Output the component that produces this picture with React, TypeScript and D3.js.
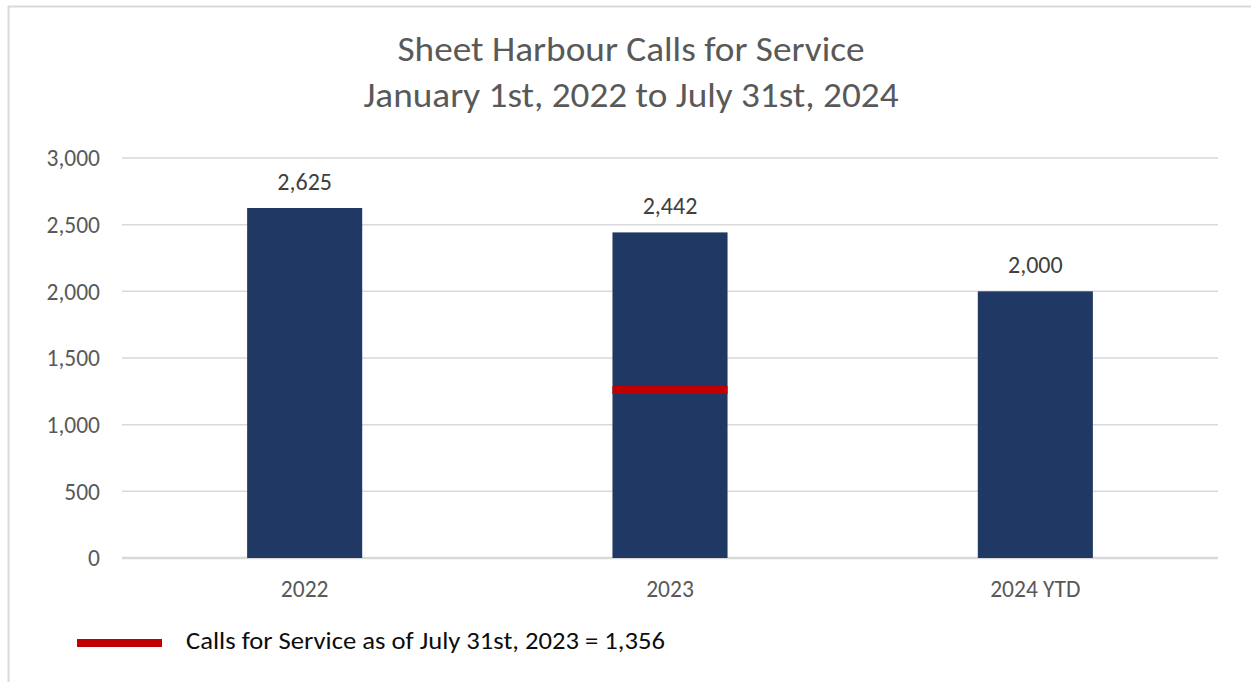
import React from "react";
import * as d3 from "d3";

const categories = ["2022", "2023", "2024 YTD"];
const callCounts = [2625, 2442, 2000];
const yTicks = [0, 500, 1000, 1500, 2000, 2500, 3000];
const markerCategory = "2023";
const markerValue = 1260;
const titleLines = ["Sheet Harbour Calls for Service", "January 1st, 2022 to July 31st, 2024"];
const legendLabel = "Calls for Service as of July 31st, 2023 = 1,356";

const W = 1251;
const H = 682;
const FONT = "Carlito, 'Open Sans', sans-serif";

export default function App() {
  const x = d3
    .scaleBand<string>()
    .domain(categories)
    .range([122, 1218])
    .paddingInner(0.685)
    .paddingOuter(0.3425);
  const y = d3.scaleLinear().domain([0, 3000]).range([558, 158]);
  const fmt = d3.format(",");

  return (
    <svg
      width={W}
      height={H}
      style={{ position: "absolute", left: 0, top: 0, background: "#fff" }}
    >
      <rect x={0} y={0} width={W} height={H} fill="#fff" />
      {/* chart border */}
      <line x1={8} x2={W} y1={6.5} y2={6.5} stroke="#d9d9d9" strokeWidth={2} />
      <line x1={8.5} x2={8.5} y1={6} y2={H} stroke="#d9d9d9" strokeWidth={2} />

      {titleLines.map((t, i) => (
        <text
          key={i}
          x={631}
          y={61 + i * 46}
          textAnchor="middle"
          fontFamily={FONT}
          fontSize={34}
          textLength={i === 0 ? 467 : 535}
          lengthAdjust="spacingAndGlyphs"
          fill="#595959"
        >
          {t}
        </text>
      ))}

      {yTicks.map((v) => (
        <g key={v}>
          <line
            x1={122}
            x2={1218}
            y1={y(v)}
            y2={y(v)}
            stroke="#d9d9d9"
            strokeWidth={v === 0 ? 2.5 : 1.5}
          />
          <text
            x={100}
            y={y(v)}
            dy="0.35em"
            textAnchor="end"
            fontFamily={FONT}
            fontSize={23.5}
            fill="#595959"
          >
            {fmt(v)}
          </text>
        </g>
      ))}

      {categories.map((c, i) => (
        <g key={c}>
          <rect
            x={x(c)}
            y={y(callCounts[i])}
            width={x.bandwidth()}
            height={y(0) - y(callCounts[i])}
            fill="#203864"
          />
          <text
            x={(x(c) as number) + x.bandwidth() / 2}
            y={y(callCounts[i]) - 18}
            textAnchor="middle"
            fontFamily={FONT}
            fontSize={24}
            fill="#404040"
          >
            {fmt(callCounts[i])}
          </text>
          <text
            x={(x(c) as number) + x.bandwidth() / 2}
            y={597}
            textAnchor="middle"
            fontFamily={FONT}
            fontSize={23.5}
            fill="#595959"
          >
            {c}
          </text>
        </g>
      ))}

      <line
        x1={x(markerCategory)}
        x2={(x(markerCategory) as number) + x.bandwidth()}
        y1={y(markerValue)}
        y2={y(markerValue)}
        stroke="#c00000"
        strokeWidth={8}
      />

      <line x1={77} x2={162} y1={643} y2={643} stroke="#c00000" strokeWidth={8} />
      <text
        x={186}
        y={649}
        fontFamily={FONT}
        fontSize={25}
        textLength={479}
        lengthAdjust="spacingAndGlyphs"
        fill="#0d0d0d"
      >
        {legendLabel}
      </text>
    </svg>
  );
}
